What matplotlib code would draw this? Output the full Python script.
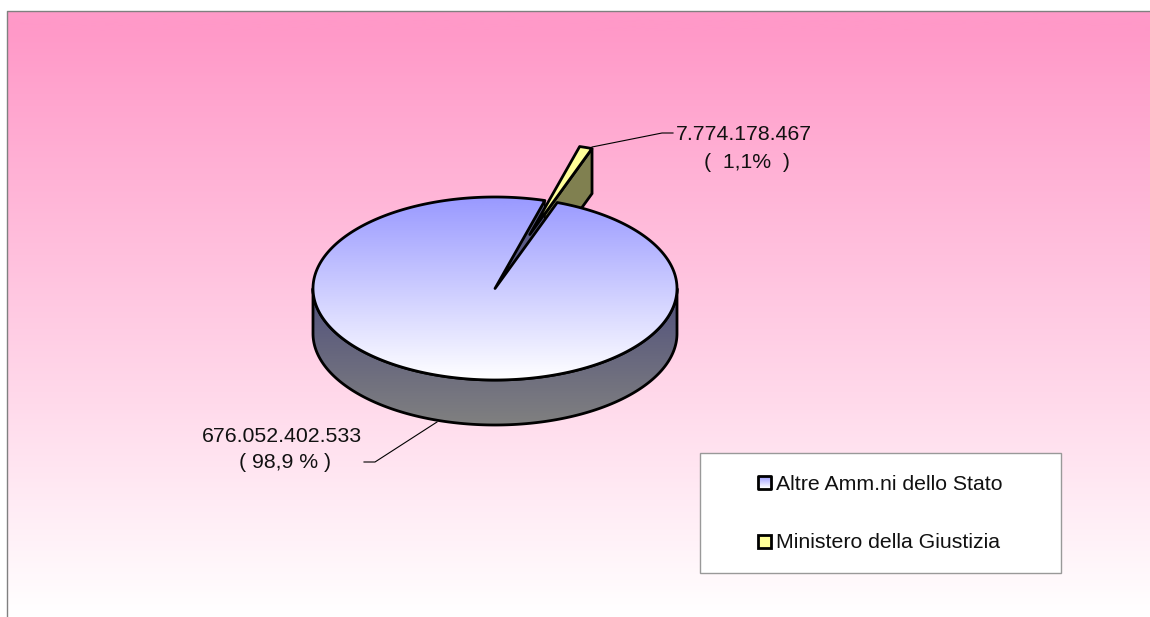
import numpy as np
import matplotlib
matplotlib.use('Agg')
import matplotlib.pyplot as plt
from matplotlib.colors import LinearSegmentedColormap
from matplotlib.patches import Polygon, Rectangle

plt.rcParams['font.family'] = ['Liberation Sans', 'DejaVu Sans']

categories = ['Altre Amm.ni dello Stato', 'Ministero della Giustizia']
values = [676052402533, 7774178467]
value_labels = ['676.052.402.533\n( 98,9 % )', '7.774.178.467\n(  1,1%  )']

W, H = 1150, 617
CX, CY, RX, RY, DEPTH = 495, 288.5, 182, 91.5, 45
START = 70  # degrees, where the small slice begins
EXPLODE = 0.62
EDGE = 2.0
FONT = 15.3


def arc(a0, a1, dx=0, dy=0, n=300):
    t = np.radians(np.linspace(a0, a1, n))
    return np.column_stack([CX + dx + RX * np.cos(t), CY + dy - RY * np.sin(t)])


def gradient(ax, poly, c0, c1, y0, y1, zorder, lw=EDGE):
    cmap = LinearSegmentedColormap.from_list('g', [c0, c1])
    x0, x1 = poly[:, 0].min() - 2, poly[:, 0].max() + 2
    im = ax.imshow(np.linspace(0, 1, 256).reshape(-1, 1), cmap=cmap, aspect='auto',
                   extent=(x0, x1, y1, y0), zorder=zorder, interpolation='bilinear')
    outline = Polygon(poly, closed=True, fc='none', ec='black', lw=lw, zorder=zorder + 0.1,
                      joinstyle='round')
    ax.add_patch(outline)
    im.set_clip_path(outline)


fig = plt.figure(figsize=(W / 100, H / 100), dpi=100)
ax = fig.add_axes([0, 0, 1, 1])
ax.axis('off')

# background
ramp = np.clip((np.linspace(0, 1, 256) - 0.03) / 0.97, 0, 1)
ax.imshow(ramp.reshape(-1, 1), cmap=LinearSegmentedColormap.from_list('bg', ['#ff99c8', '#ffffff']),
          aspect='auto', extent=(7, W, H, 11), zorder=0)
ax.plot([7, 7, W], [H, 10.5, 10.5], color='#808080', lw=1, zorder=1)

# slice angle comes from the values
sweep = 360 * values[1] / sum(values)
mid = np.radians(START + sweep / 2)
ox, oy = EXPLODE * RX * np.cos(mid), -EXPLODE * RY * np.sin(mid)

# exploded slice, cut wall
a = arc(START, START + sweep, ox, oy, 30)
apex = np.array([CX + ox, CY + oy])
wall = np.array([apex, a[0], a[0] + [0, DEPTH], apex + [0, DEPTH]])
ax.add_patch(Polygon(wall, closed=True, fc='#808050', ec='black', lw=EDGE, zorder=2))

# main pie: side, inner wall of the cut, top
end = START + sweep
side = np.vstack([arc(180, 360), arc(180, 360, 0, DEPTH)[::-1]])
gradient(ax, side, '#50507c', '#808080', CY, CY + RY + DEPTH, 3)

e = arc(end, end, n=1)[0]
cut = np.array([[CX, CY], e, e + [0, DEPTH], [CX, CY + DEPTH]])
ax.add_patch(Polygon(cut, closed=True, fc='#5a5a85', ec='black', lw=1.2, zorder=3.5))

top = np.vstack([[CX, CY], arc(end, START + 360, n=600)])
gradient(ax, top, '#9999ff', '#ffffff', CY - RY, CY + RY, 4)

# exploded slice, top face
ax.add_patch(Polygon(np.vstack([apex, a]), closed=True, fc='#ffff99', ec='black', lw=EDGE,
                     zorder=5, joinstyle='round'))

# leader lines and labels
ax.plot([592, 662, 673], [147, 133, 133], color='black', lw=0.8, zorder=6)
ax.plot([437, 375, 364], [422, 462, 462], color='black', lw=0.8, zorder=6)
small, big = value_labels[1].split('\n'), value_labels[0].split('\n')
ax.text(676, 134, small[0], fontsize=FONT, ha='left', va='center', color='#111111', zorder=7)
ax.text(747, 163, small[1], fontsize=FONT, ha='center', va='center', color='#111111', zorder=7)
ax.text(282, 436, big[0], fontsize=FONT, ha='center', va='center', color='#111111', zorder=7)
ax.text(285, 463, big[1], fontsize=FONT, ha='center', va='center', color='#111111', zorder=7)

# legend
ax.add_patch(Rectangle((700, 452.5), 361, 120, fc='white', ec='#999999', lw=1, zorder=6))
sw = np.array([[757.5, 475.5], [770.5, 475.5], [770.5, 488.5], [757.5, 488.5]], dtype=float)
gradient(ax, sw, '#9999ff', '#ffffff', 476, 488, 7)
ax.add_patch(Rectangle((757.5, 534.5), 13, 13, fc='#ffff99', ec='black', lw=EDGE, zorder=7))
ax.text(776, 484, categories[0], fontsize=FONT, ha='left', va='center', color='#111111', zorder=7)
ax.text(776, 542, categories[1], fontsize=FONT, ha='left', va='center', color='#111111', zorder=7)

ax.set_xlim(0, W)
ax.set_ylim(H, 0)
fig.savefig('out.png', dpi=100, facecolor='white')
